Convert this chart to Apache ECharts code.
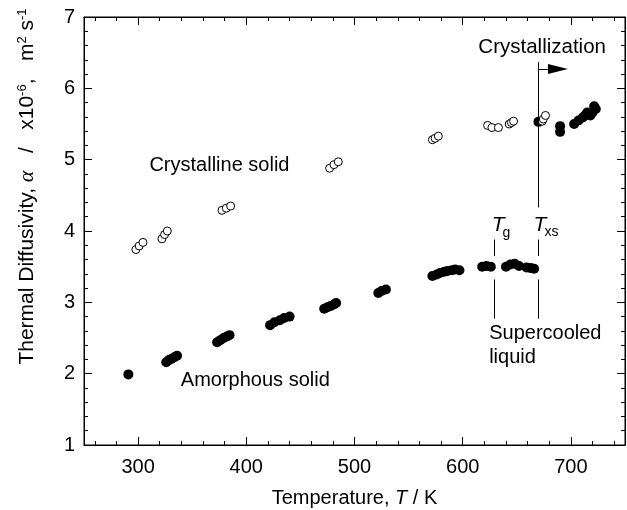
<!DOCTYPE html>
<html>
<head>
<meta charset="utf-8">
<script src="https://cdn.jsdelivr.net/npm/echarts@6/dist/echarts.min.js"></script>
<style>
  html, body { margin: 0; padding: 0; background: #fff; }
  #chart { width: 627px; height: 510px; }
</style>
</head>
<body>
<div id="chart"></div>
<script>
  // amorphous solid + supercooled liquid (filled)
  const amorphousT = [291, 326, 328.5, 331, 333.5, 336, 373, 376, 379, 382, 384.5,
    422, 426, 431, 435, 440, 472, 475, 478, 481, 483, 522, 525, 529,
    572, 576, 579, 583, 586, 590, 593, 597, 618, 622, 626, 640, 644, 648, 652, 659, 663, 666]
  const amorphousA = [1.99, 2.16, 2.19, 2.21, 2.23, 2.25, 2.44, 2.47, 2.50, 2.52, 2.54,
    2.68, 2.72, 2.75, 2.78, 2.80, 2.91, 2.93, 2.95, 2.97, 2.99, 3.13, 3.16, 3.18,
    3.37, 3.39, 3.41, 3.43, 3.44, 3.45, 3.46, 3.45, 3.50, 3.51, 3.50, 3.50, 3.53, 3.54, 3.51, 3.49, 3.48, 3.47]
  // after crystallization (filled)
  const crystallizedT = [670, 690, 690, 703, 707, 711, 713, 715, 718, 720, 721.5, 723]
  const crystallizedA = [5.53, 5.39, 5.47, 5.50, 5.55, 5.59, 5.62, 5.66, 5.62, 5.66, 5.75, 5.71]
  // crystalline solid (open)
  const crystallineT = [298, 301, 304.5, 322, 324.5, 327, 377.5, 381.5, 385.5, 477, 481, 485,
    572, 574.5, 577.5, 623, 627, 633, 643, 645, 647, 673.5, 674.5, 676.5]
  const crystallineA = [3.74, 3.79, 3.84, 3.89, 3.95, 4.00, 4.29, 4.32, 4.35, 4.88, 4.93, 4.97,
    5.28, 5.30, 5.33, 5.48, 5.45, 5.45, 5.50, 5.52, 5.54, 5.54, 5.57, 5.62]

  const xTickLabels = [300, 400, 500, 600, 700]
  const xMinorTicks = [260, 280, 320, 340, 360, 380, 420, 440, 460, 480, 520, 540, 560, 580,
    620, 640, 660, 680, 720, 740]
  const yTickLabels = [1, 2, 3, 4, 5, 6, 7]
  const Tg = 629
  const Txs = 670

  const font = "'Liberation Sans', Arial, sans-serif"
  const black = '#000'

  const zip = (xs, ys) => xs.map((x, i) => [x, ys[i]])

  // x axes: min 250 is a multiple of 50, ticks placed with customValues
  function xFrame(pos, ticks, len, showLabels) {
    return {
      type: 'value',
      position: pos,
      min: 250,
      max: 750,
      interval: 50,
      axisLine: { show: true, onZero: false, lineStyle: { color: black, width: 1 } },
      axisTick: { show: true, inside: true, length: len, customValues: ticks, lineStyle: { color: black, width: 1 } },
      minorTick: { show: false },
      splitLine: { show: false },
      axisLabel: {
        show: showLabels,
        customValues: xTickLabels,
        color: black, fontSize: 20, fontFamily: font, margin: 12
      }
    }
  }
  function yFrame(pos, showLabels) {
    return {
      type: 'value',
      position: pos,
      min: 1,
      max: 7,
      interval: 1,
      axisLine: { show: true, onZero: false, lineStyle: { color: black, width: 1 } },
      axisTick: { show: true, inside: true, length: 8, lineStyle: { color: black, width: 1 } },
      minorTick: { show: true, splitNumber: 5, length: 4, lineStyle: { color: black, width: 1 } },
      splitLine: { show: false },
      axisLabel: { show: showLabels, color: black, fontSize: 20, fontFamily: font, margin: 9 }
    }
  }

  const xMain = Object.assign(xFrame('bottom', xTickLabels, 8, true), {
    name: 'Temperature, {i|T} / K',
    nameLocation: 'middle',
    nameGap: 43,
    nameTextStyle: {
      color: black, fontSize: 20, fontFamily: font,
      rich: { i: { fontStyle: 'italic', fontSize: 20, fontFamily: font, color: black } }
    }
  })
  const yMain = Object.assign(yFrame('left', true), {
    name: 'Thermal Diffusivity, {a|α}   /   x10{sup|-6},   m{sup|2} s{sup|-1}',
    nameLocation: 'middle',
    nameGap: 46,
    nameTextStyle: {
      color: black, fontSize: 21, fontFamily: font,
      padding: [0, 0, 0, 89],
      rich: {
        a: { fontStyle: 'italic', fontSize: 22, fontFamily: "'Liberation Serif', serif", color: black },
        sup: { fontSize: 13, fontFamily: font, color: black, verticalAlign: 'top' }
      }
    }
  })

  const txt = (coord, text, size, italic, extra) => ({
    coord: coord,
    label: Object.assign({
      show: true, position: 'right', distance: 0,
      formatter: text, color: black, fontSize: size || 20,
      fontFamily: font, fontStyle: italic ? 'italic' : 'normal'
    }, extra || {})
  })
  const seg = (x1, y1, x2, y2, endSym) => [
    { coord: [x1, y1], symbol: 'none' },
    endSym ? { coord: [x2, y2], symbol: 'triangle', symbolSize: [10, 20] } : { coord: [x2, y2], symbol: 'none' }
  ]

  const options = {
    animation: false,
    grid: {
      left: 84, right: 2, top: 17, bottom: 65,
      outerBoundsMode: 'none',
      show: true, borderColor: black, borderWidth: 1, backgroundColor: 'transparent'
    },
    xAxis: [
      xMain,
      xFrame('bottom', xMinorTicks, 4, false),
      xFrame('top', xTickLabels, 8, false),
      xFrame('top', xMinorTicks, 4, false)
    ],
    yAxis: [yMain, yFrame('right', false)],
    series: [
      {
        name: 'Amorphous',
        type: 'scatter',
        xAxisIndex: 0, yAxisIndex: 0,
        data: zip(amorphousT, amorphousA),
        symbol: 'circle',
        symbolSize: 10,
        itemStyle: { color: black, opacity: 1 }
      },
      {
        name: 'Crystallized',
        type: 'scatter',
        xAxisIndex: 1, yAxisIndex: 1,
        data: zip(crystallizedT, crystallizedA),
        symbol: 'circle',
        symbolSize: 10,
        itemStyle: { color: black, opacity: 1 }
      },
      {
        name: 'Crystalline',
        type: 'scatter',
        xAxisIndex: 2, yAxisIndex: 0,
        data: zip(crystallineT, crystallineA),
        symbol: 'circle',
        symbolSize: 8,
        itemStyle: { color: '#fff', borderColor: black, borderWidth: 1, opacity: 1 }
      },
      {
        name: 'notes',
        type: 'scatter',
        xAxisIndex: 3, yAxisIndex: 1,
        data: [],
        silent: true,
        markLine: {
          silent: true,
          symbol: 'none',
          label: { show: false },
          lineStyle: { color: black, width: 1, type: 'solid', opacity: 1 },
          emphasis: { disabled: true },
          data: [
            seg(Tg, 3.88, Tg, 3.65),
            seg(Tg, 3.32, Tg, 2.77),
            seg(Txs, 3.88, Txs, 3.65),
            seg(Txs, 3.32, Txs, 2.77),
            seg(Txs, 6.37, Txs, 4.33),
            seg(Txs, 6.27, 688, 6.27, true)
          ]
        },
        markPoint: {
          silent: true,
          symbol: 'circle',
          symbolSize: 1,
          itemStyle: { color: 'rgba(0,0,0,0)' },
          data: [
            txt([310, 4.92], 'Crystalline solid'),
            txt([339, 1.90], 'Amorphous solid'),
            txt([624, 2.39], 'Supercooled\nliquid', 20, false, { lineHeight: 24 }),
            txt([614, 6.57], 'Crystallization', 20.5),
            txt([626.3, 4.08], 'T', 21, true),
            txt([636.4, 3.97], 'g', 14),
            txt([665, 4.08], 'T', 21, true),
            txt([675.1, 3.98], 'xs', 14)
          ]
        }
      }
    ]
  }

  const myChart = echarts.init(document.getElementById('chart'))
  myChart.setOption(options)
</script>
</body>
</html>
